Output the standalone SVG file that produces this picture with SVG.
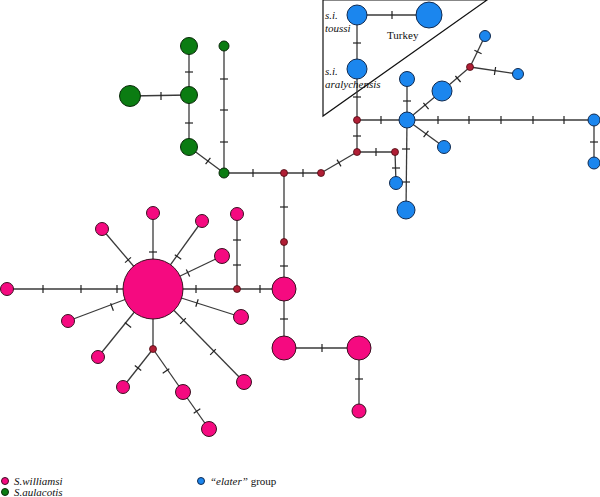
<svg xmlns="http://www.w3.org/2000/svg" width="600" height="497" viewBox="0 0 600 497">
<style>
.e{stroke:#3a3a3a;stroke-width:1.3;fill:none}
.t{stroke:#222;stroke-width:1.2}
.pk{fill:#f50a80;stroke:#3a1020;stroke-width:1}
.bl{fill:#1b86ee;stroke:#102a50;stroke-width:1}
.gr{fill:#0b7c12;stroke:#0a2a0a;stroke-width:1}
.rd{fill:#b01e35;stroke:#4a0a12;stroke-width:0.8}
.lab{font-family:"Liberation Serif",serif;font-size:11px;fill:#111}
.it{font-style:italic}
</style>
<rect width="600" height="497" fill="#fff"/>
<polygon points="323,0 487,0 323,116" fill="none" stroke="#111" stroke-width="1.2"/>
<g id="connectors">
<line class="e" x1="357" y1="15" x2="429" y2="15"/>
<line class="e" x1="357" y1="15" x2="357" y2="69"/>
<line class="e" x1="357" y1="69" x2="357" y2="120"/>
<line class="e" x1="357" y1="120" x2="407" y2="120"/>
<line class="e" x1="407" y1="120" x2="594" y2="120"/>
<line class="e" x1="594" y1="120" x2="594" y2="163"/>
<line class="e" x1="407" y1="120" x2="407" y2="79"/>
<line class="e" x1="407" y1="120" x2="442" y2="91"/>
<line class="e" x1="442" y1="91" x2="470" y2="67"/>
<line class="e" x1="470" y1="67" x2="485" y2="36"/>
<line class="e" x1="470" y1="67" x2="518" y2="74"/>
<line class="e" x1="407" y1="120" x2="444" y2="147"/>
<line class="e" x1="407" y1="120" x2="406" y2="210"/>
<line class="e" x1="357" y1="152" x2="395" y2="152"/>
<line class="e" x1="395" y1="152" x2="396" y2="183"/>
<line class="e" x1="357" y1="120" x2="357" y2="152"/>
<line class="e" x1="357" y1="152" x2="321" y2="173"/>
<line class="e" x1="321" y1="173" x2="284" y2="173"/>
<line class="e" x1="284" y1="173" x2="224" y2="173"/>
<line class="e" x1="284" y1="173" x2="284" y2="242"/>
<line class="e" x1="284" y1="242" x2="284" y2="289"/>
<line class="e" x1="284" y1="289" x2="284" y2="348"/>
<line class="e" x1="284" y1="348" x2="359" y2="348"/>
<line class="e" x1="359" y1="348" x2="359" y2="411"/>
<line class="e" x1="237" y1="289" x2="284" y2="289"/>
<line class="e" x1="237" y1="289" x2="237" y2="214"/>
<line class="e" x1="153" y1="289" x2="237" y2="289"/>
<line class="e" x1="153" y1="289" x2="7" y2="289"/>
<line class="e" x1="153" y1="289" x2="153" y2="213"/>
<line class="e" x1="153" y1="289" x2="102" y2="229"/>
<line class="e" x1="153" y1="289" x2="202" y2="221"/>
<line class="e" x1="153" y1="289" x2="222" y2="256"/>
<line class="e" x1="153" y1="289" x2="241" y2="317"/>
<line class="e" x1="153" y1="289" x2="244" y2="382"/>
<line class="e" x1="153" y1="289" x2="153" y2="349"/>
<line class="e" x1="153" y1="349" x2="123" y2="387"/>
<line class="e" x1="153" y1="349" x2="183" y2="392"/>
<line class="e" x1="183" y1="392" x2="209" y2="429"/>
<line class="e" x1="153" y1="289" x2="68" y2="321"/>
<line class="e" x1="153" y1="289" x2="98" y2="357"/>
<line class="e" x1="189" y1="46" x2="189" y2="147"/>
<line class="e" x1="130" y1="96" x2="189" y2="95"/>
<line class="e" x1="224" y1="46" x2="224" y2="173"/>
<line class="e" x1="189" y1="147" x2="224" y2="173"/>
<!-- ticks -->
<line class="t" x1="392" y1="11" x2="392" y2="19"/>
<line class="t" x1="353" y1="43" x2="361" y2="43"/>
<line class="t" x1="353" y1="97" x2="361" y2="97"/>
<line class="t" x1="381" y1="116" x2="381" y2="124"/>
<line class="t" x1="438" y1="116" x2="438" y2="124"/>
<line class="t" x1="469" y1="116" x2="469" y2="124"/>
<line class="t" x1="501" y1="116" x2="501" y2="124"/>
<line class="t" x1="533" y1="116" x2="533" y2="124"/>
<line class="t" x1="564" y1="116" x2="564" y2="124"/>
<line class="t" x1="590" y1="142" x2="598" y2="142"/>
<line class="t" x1="403" y1="101" x2="411" y2="101"/>
<line class="t" x1="423.4" y1="102.9" x2="428.6" y2="109.1"/>
<line class="t" x1="455.4" y1="76" x2="460.6" y2="82"/>
<line class="t" x1="474.4" y1="50.2" x2="481.6" y2="53.8"/>
<line class="t" x1="495.6" y1="67" x2="494.4" y2="75"/>
<line class="t" x1="428.4" y1="130.8" x2="423.6" y2="137.2"/>
<line class="t" x1="402" y1="149" x2="410" y2="149"/>
<line class="t" x1="402" y1="182" x2="410" y2="182"/>
<line class="t" x1="376" y1="148" x2="376" y2="156"/>
<line class="t" x1="392" y1="168" x2="400" y2="168"/>
<line class="t" x1="353" y1="136" x2="361" y2="136"/>
<line class="t" x1="337" y1="159.6" x2="341" y2="166.4"/>
<line class="t" x1="303" y1="169" x2="303" y2="177"/>
<line class="t" x1="253" y1="169" x2="253" y2="177"/>
<line class="t" x1="280" y1="207" x2="288" y2="207"/>
<line class="t" x1="280" y1="266" x2="288" y2="266"/>
<line class="t" x1="280" y1="319" x2="288" y2="319"/>
<line class="t" x1="322" y1="344" x2="322" y2="352"/>
<line class="t" x1="355" y1="379" x2="363" y2="379"/>
<line class="t" x1="260" y1="285" x2="260" y2="293"/>
<line class="t" x1="233" y1="240" x2="241" y2="240"/>
<line class="t" x1="233" y1="265" x2="241" y2="265"/>
<line class="t" x1="196" y1="285" x2="196" y2="293"/>
<line class="t" x1="43" y1="285" x2="43" y2="293"/>
<line class="t" x1="81" y1="285" x2="81" y2="293"/>
<line class="t" x1="117" y1="285" x2="117" y2="293"/>
<line class="t" x1="149" y1="252" x2="157" y2="252"/>
<line class="t" x1="125" y1="262.6" x2="131" y2="257.4"/>
<line class="t" x1="174.8" y1="254.7" x2="181.2" y2="259.3"/>
<line class="t" x1="186.3" y1="269.4" x2="189.7" y2="276.6"/>
<line class="t" x1="198.2" y1="299.2" x2="195.8" y2="306.8"/>
<line class="t" x1="185.8" y1="318.2" x2="180.2" y2="323.8"/>
<line class="t" x1="215.8" y1="349.2" x2="210.2" y2="354.8"/>
<line class="t" x1="134.8" y1="365.5" x2="141.2" y2="370.5"/>
<line class="t" x1="169.3" y1="368.7" x2="162.7" y2="373.3"/>
<line class="t" x1="200.3" y1="408.7" x2="193.7" y2="413.3"/>
<line class="t" x1="110.6" y1="303.3" x2="113.4" y2="310.7"/>
<line class="t" x1="124.9" y1="322.5" x2="131.1" y2="327.5"/>
<line class="t" x1="185" y1="72" x2="193" y2="72"/>
<line class="t" x1="161" y1="92" x2="161" y2="100"/>
<line class="t" x1="185" y1="123" x2="193" y2="123"/>
<line class="t" x1="220" y1="79" x2="228" y2="79"/>
<line class="t" x1="220" y1="110" x2="228" y2="110"/>
<line class="t" x1="220" y1="142" x2="228" y2="142"/>
<line class="t" x1="210.4" y1="157.8" x2="205.6" y2="164.2"/>
</g>
<g id="elater">
<circle id="n-toussi" class="bl" cx="357" cy="15" r="10"/>
<circle id="n-turkey" class="bl" cx="429" cy="15" r="13"/>
<circle id="n-aral" class="bl" cx="357" cy="69" r="10"/>
<circle id="n-hub" class="bl" cx="407" cy="120" r="8"/>
<circle id="n-b1" class="bl" cx="407" cy="79" r="7.5"/>
<circle id="n-b2" class="bl" cx="442" cy="91" r="10"/>
<circle id="n-b3" class="bl" cx="485" cy="36" r="5.5"/>
<circle id="n-b4" class="bl" cx="518" cy="74" r="5.5"/>
<circle id="n-b5" class="bl" cx="444" cy="147" r="6.5"/>
<circle id="n-b6" class="bl" cx="406" cy="210" r="9"/>
<circle id="n-b7" class="bl" cx="396" cy="183" r="6.5"/>
<circle id="n-b8" class="bl" cx="594" cy="120" r="6"/>
<circle id="n-b9" class="bl" cx="594" cy="163" r="6"/>
</g>
<g id="median">
<circle id="m-a" class="rd" cx="357" cy="120" r="3.5"/>
<circle id="m-c" class="rd" cx="470" cy="67" r="3.5"/>
<circle id="m-d" class="rd" cx="357" cy="152" r="3.5"/>
<circle id="m-e" class="rd" cx="395" cy="152" r="3.5"/>
<circle id="m-f" class="rd" cx="321" cy="173" r="3.5"/>
<circle id="m-g" class="rd" cx="284" cy="173" r="3.5"/>
<circle id="m-h" class="rd" cx="284" cy="242" r="3.5"/>
<circle id="m-i" class="rd" cx="237" cy="289" r="3.5"/>
<circle id="m-j" class="rd" cx="153" cy="349" r="3.5"/>
</g>
<g id="aulacotis">
<circle id="g1" class="gr" cx="189" cy="46" r="8.5"/>
<circle id="g2" class="gr" cx="189" cy="95" r="8.5"/>
<circle id="g3" class="gr" cx="130" cy="96" r="10.5"/>
<circle id="g4" class="gr" cx="189" cy="147" r="8.5"/>
<circle id="g5" class="gr" cx="224" cy="46" r="5"/>
<circle id="g6" class="gr" cx="224" cy="173" r="5"/>
</g>
<g id="williamsi">
<circle id="p-hub" class="pk" cx="153" cy="289" r="30"/>
<circle id="p1" class="pk" cx="284" cy="289" r="12"/>
<circle id="p2" class="pk" cx="284" cy="348" r="12"/>
<circle id="p3" class="pk" cx="359" cy="348" r="12"/>
<circle id="p4" class="pk" cx="359" cy="411" r="7"/>
<circle id="p5" class="pk" cx="237" cy="214" r="6.5"/>
<circle id="p6" class="pk" cx="7" cy="289" r="6.5"/>
<circle id="p7" class="pk" cx="153" cy="213" r="6.5"/>
<circle id="p8" class="pk" cx="102" cy="229" r="6.5"/>
<circle id="p9" class="pk" cx="202" cy="221" r="6.5"/>
<circle id="p10" class="pk" cx="222" cy="256" r="7.5"/>
<circle id="p11" class="pk" cx="241" cy="317" r="7.5"/>
<circle id="p12" class="pk" cx="244" cy="382" r="7.5"/>
<circle id="p13" class="pk" cx="123" cy="387" r="6.5"/>
<circle id="p14" class="pk" cx="183" cy="392" r="7.5"/>
<circle id="p15" class="pk" cx="209" cy="429" r="7.5"/>
<circle id="p16" class="pk" cx="68" cy="321" r="6.5"/>
<circle id="p17" class="pk" cx="98" cy="357" r="6.5"/>
</g>
<g id="labels">
<text class="lab it" x="325" y="19">s.i.</text>
<text class="lab it" x="325" y="32">toussi</text>
<text class="lab it" x="325" y="75">s.i.</text>
<text class="lab it" x="325" y="88">aralychensis</text>
<text class="lab" x="387" y="39">Turkey</text>
</g>
<g id="legend">
<circle class="pk" cx="5" cy="481" r="3.5"/>
<text class="lab it" x="14" y="485">S.williamsi</text>
<circle class="gr" cx="5" cy="492" r="3.5"/>
<text class="lab it" x="14" y="496">S.aulacotis</text>
<circle class="bl" cx="201" cy="481" r="3.5"/>
<text class="lab" x="210" y="485"><tspan class="it">“elater”</tspan> group</text>
</g>
</svg>
